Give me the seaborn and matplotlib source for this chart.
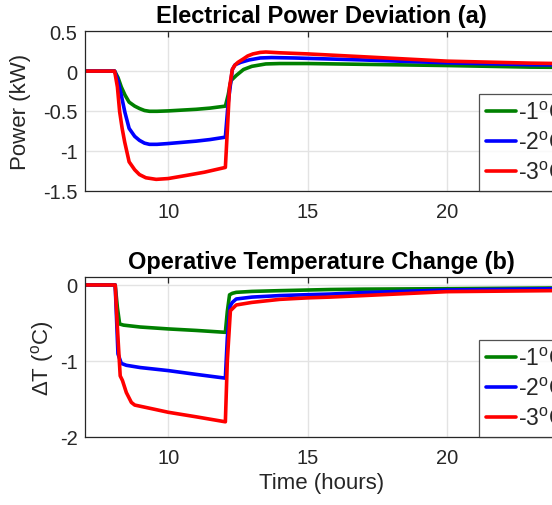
import numpy as np
import pandas as pd
import matplotlib
matplotlib.use("Agg")
import matplotlib.pyplot as plt
import seaborn as sns

# ---------------- data ----------------
labels = ["-1$^{\\mathrm{o}}$C", "-2$^{\\mathrm{o}}$C", "-3$^{\\mathrm{o}}$C"]
colors = ["#008000", "#0000ff", "#ff0000"]

# (a) electrical power deviation (kW)
p1_t = [7, 8.08, 8.2, 8.32, 8.45, 8.6, 8.8, 8.97, 9.15, 9.33, 9.6, 10, 10.5, 11, 11.5, 12.05,
        12.15, 12.25, 12.44, 12.7, 13.0, 13.5, 14, 15, 17, 20, 23, 25]
p1_v = [0, 0, -0.08, -0.2, -0.3, -0.39, -0.44, -0.47, -0.495, -0.505, -0.505, -0.50, -0.49, -0.48,
        -0.465, -0.44, -0.3, -0.12, -0.055, 0.02, 0.06, 0.09, 0.095, 0.095, 0.085, 0.07, 0.05, 0.045]

p2_t = [7, 8.08, 8.2, 8.32, 8.45, 8.6, 8.8, 8.97, 9.15, 9.33, 9.6, 10, 10.5, 11, 11.5, 12.05,
        12.15, 12.3, 12.4, 12.6, 12.9, 13.3, 13.7, 14.5, 15, 17, 20, 23, 25]
p2_v = [0, 0, -0.12, -0.305, -0.52, -0.72, -0.82, -0.87, -0.905, -0.92, -0.92, -0.91, -0.895,
        -0.88, -0.86, -0.83, -0.4, 0.02, 0.08, 0.11, 0.14, 0.165, 0.17, 0.165, 0.16, 0.14, 0.104,
        0.08, 0.075]

p3_t = [7, 8.08, 8.18, 8.26, 8.35, 8.44, 8.6, 8.8, 8.97, 9.2, 9.57, 10, 10.66, 11.3, 12.05,
        12.12, 12.2, 12.3, 12.38, 12.5, 12.68, 12.85, 13.04, 13.3, 13.5, 14, 15, 17, 20, 23, 25]
p3_v = [0, 0, -0.2, -0.51, -0.72, -0.89, -1.14, -1.24, -1.30, -1.34, -1.36, -1.35, -1.31, -1.27,
        -1.21, -0.75, -0.2, 0.02, 0.07, 0.11, 0.15, 0.19, 0.216, 0.235, 0.24, 0.23, 0.216, 0.18,
        0.125, 0.10, 0.09]

# (b) operative temperature change (degC)
t1_t = [7, 8.1, 8.18, 8.26, 8.4, 9, 10, 11, 12.05, 12.12, 12.2, 12.3, 12.44, 13, 14, 15.8, 17,
        20, 23.7, 25]
t1_v = [0, 0, -0.3, -0.515, -0.53, -0.555, -0.58, -0.60, -0.625, -0.35, -0.13, -0.11, -0.097,
        -0.085, -0.075, -0.06, -0.055, -0.049, -0.04, -0.038]

t2_t = [7, 8.1, 8.2, 8.32, 8.5, 9, 10, 11, 12.05, 12.12, 12.22, 12.3, 12.44, 13, 14, 15, 15.8,
        17, 20, 23.7, 25]
t2_v = [0, 0, -0.91, -1.035, -1.06, -1.09, -1.13, -1.18, -1.23, -0.7, -0.28, -0.23, -0.185,
        -0.16, -0.14, -0.128, -0.12, -0.1, -0.066, -0.05, -0.045]

t3_t = [7, 8.1, 8.2, 8.28, 8.36, 8.5, 8.68, 8.8, 9.5, 10, 11, 12.05, 12.12, 12.23, 12.44, 13, 14,
        15, 15.8, 17, 20, 23.7, 25]
t3_v = [0, 0, -0.7, -1.2, -1.26, -1.42, -1.55, -1.585, -1.64, -1.68, -1.74, -1.806, -1.0, -0.34,
        -0.264, -0.23, -0.19, -0.17, -0.16, -0.14, -0.088, -0.075, -0.07]

x_ticks = [10, 15, 20]
power_yticks = [0.5, 0, -0.5, -1, -1.5]
power_yticklabels = ["0.5", "0", "-0.5", "-1", "-1.5"]
temp_yticks = [0, -1, -2]
temp_yticklabels = ["0", "-1", "-2"]

# ---------------- style ----------------
sns.set_style("white")
plt.rcParams["font.family"] = ["Liberation Sans", "DejaVu Sans"]
plt.rcParams["mathtext.fontset"] = "custom"
plt.rcParams["mathtext.rm"] = "Liberation Sans"
plt.rcParams["mathtext.it"] = "Liberation Sans:italic"
plt.rcParams["axes.unicode_minus"] = False

W, H = 552, 506
fig = plt.figure(figsize=(W / 100, H / 100), dpi=100)
axL = 84.5
axW = 474.2
ax1 = fig.add_axes([axL / W, (H - 191.5) / H, axW / W, 159.2 / H])
ax2 = fig.add_axes([axL / W, (H - 437.5) / H, axW / W, 159.1 / H])

spine_c = "#262626"
grid_c = "#e3e3e3"


def draw(ax, series, yticks, yticklabels, ylim, title, ylabel, ylab_x):
    for (t, v), lab, c in zip(series, labels, colors):
        df = pd.DataFrame({"t": t, "v": v})
        sns.lineplot(data=df, x="t", y="v", ax=ax, color=c, lw=2.6, label=lab, sort=False)
    ax.set_xlim(7, 24)
    ax.set_ylim(*ylim)
    ax.set_xticks(x_ticks)
    ax.set_xticklabels([str(x) for x in x_ticks])
    ax.set_yticks(yticks)
    ax.set_yticklabels(yticklabels)
    ax.grid(True, color=grid_c, lw=1.0)
    ax.set_axisbelow(True)
    for s in ax.spines.values():
        s.set_color(spine_c)
        s.set_linewidth(0.9)
    ax.tick_params(axis="both", direction="in", length=4, width=0.9, color=spine_c,
                   labelsize=14.5, labelcolor="#262626", top=True, right=True)
    ax.tick_params(axis="x", pad=8)
    ax.tick_params(axis="y", pad=5)
    ax.set_title(title, fontsize=17, fontweight="bold", pad=7, color="black")
    ax.set_ylabel(ylabel, fontsize=16, color="#262626")
    ax.yaxis.set_label_coords(ylab_x, 0.5)
    ax.set_xlabel("")
    leg = ax.legend(loc="lower left", bbox_to_anchor=(0.8326, 0.0), borderaxespad=0,
                    fontsize=16.5, frameon=True, fancybox=False, handlelength=1.3,
                    handletextpad=0.08, labelspacing=0.3, borderpad=0.3)
    leg.get_frame().set_edgecolor(spine_c)
    leg.get_frame().set_linewidth(0.9)
    for ln in leg.get_lines():
        ln.set_linewidth(2.6)


draw(ax1, [(p1_t, p1_v), (p2_t, p2_v), (p3_t, p3_v)], power_yticks, power_yticklabels,
     (-1.5, 0.5), "Electrical Power Deviation (a)", "Power (kW)", -0.112)
draw(ax2, [(t1_t, t1_v), (t2_t, t2_v), (t3_t, t3_v)], temp_yticks, temp_yticklabels,
     (-2, 0.1), "Operative Temperature Change (b)", "ΔT ($^{\\mathrm{o}}$C)", -0.06)
ax2.set_xlabel("Time (hours)", fontsize=16, color="#262626", labelpad=4)

fig.savefig("out.png", dpi=100)
